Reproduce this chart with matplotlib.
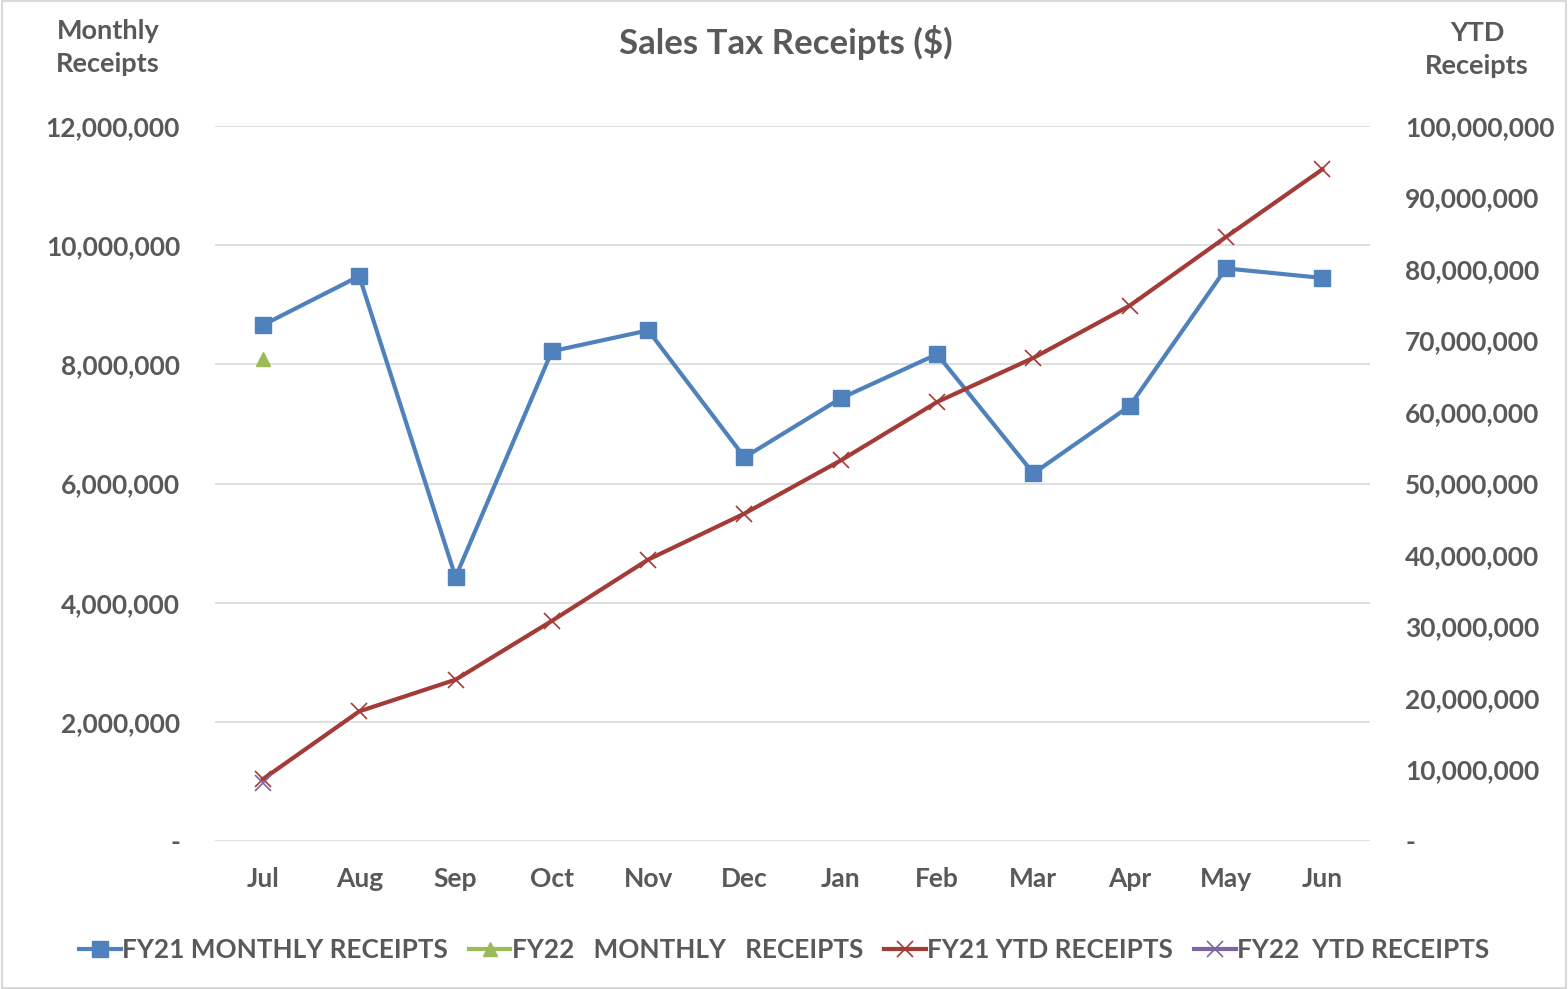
import matplotlib
matplotlib.use("Agg")
import matplotlib.pyplot as plt
from matplotlib.ticker import FuncFormatter, MultipleLocator
from matplotlib.patches import Rectangle

months = ["Jul", "Aug", "Sep", "Oct", "Nov", "Dec", "Jan", "Feb", "Mar", "Apr", "May", "Jun"]
fy21_monthly = [8660000, 9480000, 4430000, 8220000, 8570000, 6440000,
                7430000, 8170000, 6170000, 7300000, 9610000, 9450000]
fy22_monthly = [8090000]
fy21_ytd = [8660000, 18140000, 22570000, 30790000, 39360000, 45800000,
            53230000, 61400000, 67570000, 74870000, 84480000, 93930000]
fy22_ytd = [8090000]

TXT = "#595959"
plt.rcParams["font.family"] = ["Lato", "DejaVu Sans"]
plt.rcParams["font.weight"] = "bold"

fig = plt.figure(figsize=(15.68, 9.89), dpi=100)
ax = fig.add_axes([0.137, 0.1496, 0.737, 0.723])
ax2 = ax.twinx()

x = list(range(len(months)))
l1, = ax.plot(x, fy21_monthly, color="#4f81bd", lw=3, marker="s", ms=12,
              label="FY21 MONTHLY RECEIPTS")
l2, = ax.plot(x[:len(fy22_monthly)], fy22_monthly, color="#9bbb59", lw=3, marker="^",
              ms=10, label="FY22   MONTHLY   RECEIPTS")
l3, = ax2.plot(x, fy21_ytd, color="#a33b36", lw=3, marker="x", ms=12, mew=1.2,
               label="FY21 YTD RECEIPTS")
l4, = ax2.plot(x[:len(fy22_ytd)], fy22_ytd, color="#8064a2", lw=3, marker="x", ms=12,
               mew=1.2, label="FY22  YTD RECEIPTS")

ax.set_xlim(-0.5, 11.5)
ax.set_ylim(0, 12000000)
ax2.set_ylim(0, 100000000)
ax.yaxis.set_major_locator(MultipleLocator(2000000))
ax2.yaxis.set_major_locator(MultipleLocator(10000000))

fmt = FuncFormatter(lambda v, p: "-" if v == 0 else f"{v:,.0f}")
ax.yaxis.set_major_formatter(fmt)
ax2.yaxis.set_major_formatter(fmt)

ax.set_xticks(x)
ax.set_xticklabels(months)
ax.grid(axis="y", color="#d9d9d9", lw=1.2)
ax.set_axisbelow(True)
for a in (ax, ax2):
    for s in a.spines.values():
        s.set_visible(False)
    a.tick_params(length=0, colors=TXT, labelsize=19)
ax.tick_params(axis="y", pad=25)
ax2.tick_params(axis="y", pad=25)
ax.tick_params(axis="x", pad=19)
for lab in ax.get_xticklabels() + ax.get_yticklabels() + ax2.get_yticklabels():
    lab.set_fontweight("bold")

fig.text(0.501, 0.957, "Sales Tax Receipts ($)", ha="center", va="center",
         fontsize=25, color=TXT, fontweight="bold")
fig.text(0.069, 0.952, "Monthly\nReceipts", ha="center", va="center",
         fontsize=19.5, color=TXT, fontweight="bold", linespacing=1.45)
fig.text(0.942, 0.950, "YTD\nReceipts", ha="center", va="center",
         fontsize=19.5, color=TXT, fontweight="bold", linespacing=1.45)

leg = fig.legend(handles=[l1, l2, l3, l4], loc="center", bbox_to_anchor=(0.5, 0.039),
                 ncol=4, frameon=False, fontsize=18.8, handlelength=1.6,
                 handletextpad=0.05, columnspacing=0.8)
for t in leg.get_texts():
    t.set_color(TXT)
    t.set_fontweight("bold")

fig.patches.append(Rectangle((0.001, 0.001), 0.998, 0.998, transform=fig.transFigure,
                             fill=False, edgecolor="#d9d9d9", lw=1.5))

fig.savefig("out.png", dpi=100)
